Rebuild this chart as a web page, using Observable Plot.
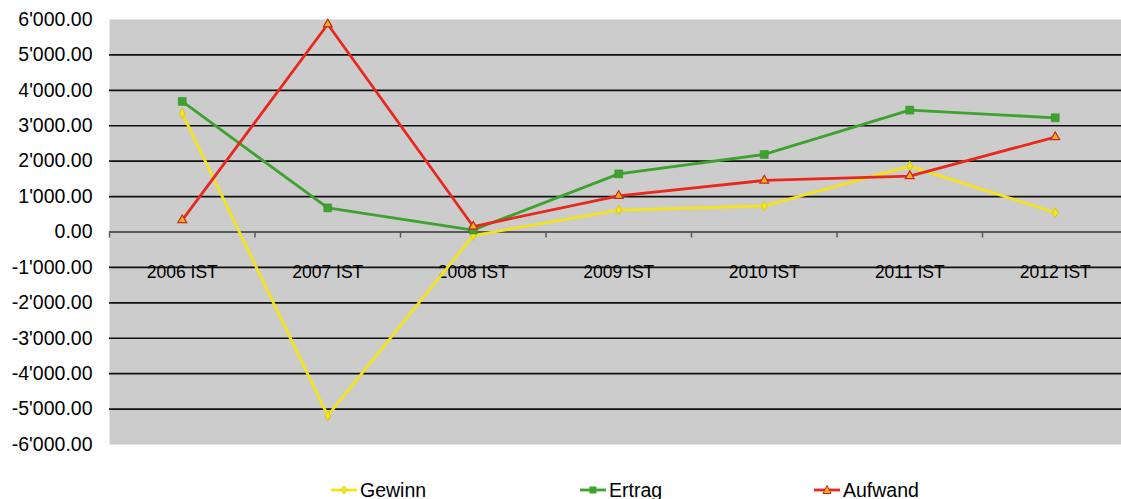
<!DOCTYPE html>
<html><head><meta charset="utf-8">
<script src="https://cdn.jsdelivr.net/npm/d3@7"></script>
<script src="https://cdn.jsdelivr.net/npm/@observablehq/plot@0.6"></script>
<style>
body{margin:0;background:#fff;font-family:"Liberation Sans",Arial,sans-serif;}
#chart svg{display:block;}
#legend{position:relative;height:39px;width:1121px;}
.item{position:absolute;top:19px;height:22px;display:flex;align-items:center;font-size:19.5px;color:#000;}
.item svg{margin-right:3px;}
</style></head><body>
<div id="chart"></div>
<div id="legend"></div>
<script>
const categories = ["2006 IST","2007 IST","2008 IST","2009 IST","2010 IST","2011 IST","2012 IST"];
const seriesNames = ["Gewinn","Ertrag","Aufwand"];
const gewinn  = [3350, -5185, -100, 620, 735, 1860, 545];
const ertrag  = [3685, 680, 55, 1640, 2190, 3440, 3225];
const aufwand = [335, 5865, 155, 1020, 1455, 1580, 2680];
const yTicks = [-6000,-5000,-4000,-3000,-2000,-1000,0,1000,2000,3000,4000,5000,6000];
const gridTicks = [-5000,-4000,-3000,-2000,-1000,1000,2000,3000,4000,5000];
const colors = ["#f2e31e","#3da32e","#e8281c"];
const legendLeft = [331, 580, 814];

const values = [gewinn, ertrag, aufwand];
const rows = [];
seriesNames.forEach((s, k) => values[k].forEach((v, i) => rows.push({i, cat: categories[i], series: s, value: v})));
const boundaries = d3.range(categories.length + 1).map(i => i - 0.5);
const fmt = d => d3.format(",.2f")(d).replace(/,/g, "'").replace("−", "-");

const bySeries = s => rows.filter(r => r.series === s);

const chart = Plot.plot({
  width: 1121,
  height: 460,
  marginLeft: 109,
  marginRight: 0,
  marginTop: 19,
  marginBottom: 16,
  style: {fontFamily: "'Liberation Sans', Arial, sans-serif", background: "#fff", color: "#000"},
  x: {type: "linear", domain: [-0.5, categories.length - 0.5], range: [109, 1127.5], axis: null},
  y: {domain: [-6000, 6000], axis: null},
  color: {domain: seriesNames, range: colors},
  marks: [
    Plot.frame({fill: "#cccccc", stroke: null}),
    Plot.ruleY(gridTicks, {stroke: "#111", strokeWidth: 1.6}),
    Plot.ruleY([0], {stroke: "#5a5a5a", strokeWidth: 2}),
    Plot.ruleX(boundaries, {y1: 0, y2: -170, stroke: "#5a5a5a", strokeWidth: 1.5}),
    Plot.axisY(yTicks, {anchor: "left", tickSize: 0, tickPadding: 17, tickFormat: fmt, fontSize: 19.5, label: null, fill: "#000"}),
    Plot.text(categories, {x: (d, i) => i, y: 0, dy: 40, text: d => d, fontSize: 17.5, fill: "#000"}),
    Plot.line(rows, {x: "i", y: "value", z: "series", stroke: "series", strokeWidth: 2.8}),
    Plot.dot(bySeries("Gewinn"), {x: "i", y: "value", symbol: "diamond", r: 3, fill: "#f5e62a", stroke: "#d8c80e", strokeWidth: 1}),
    Plot.dot(bySeries("Ertrag"), {x: "i", y: "value", symbol: "square", r: 4.5, fill: "#3da32e", stroke: "#2f8f22", strokeWidth: 0.5}),
    Plot.dot(bySeries("Aufwand"), {x: "i", y: "value", symbol: "triangle", r: 3.3, fill: "#f4b01a", stroke: "#c8281c", strokeWidth: 1.2})
  ]
});
document.getElementById("chart").appendChild(chart);

const legend = document.getElementById("legend");
const markerSvg = k => {
  const c = colors[k];
  let m;
  if (k === 0) m = `<path d="M13,7 L16,11 L13,15 L10,11 Z" fill="#f5e62a" stroke="#d8c80e" stroke-width="0.8"/>`;
  else if (k === 1) m = `<rect x="9.5" y="7.5" width="7" height="7" fill="#3da32e"/>`;
  else m = `<path d="M13,6.5 L17,14.5 L9,14.5 Z" fill="#f4b01a" stroke="#c8281c" stroke-width="1"/>`;
  return `<svg width="26" height="22"><line x1="0" y1="11" x2="26" y2="11" stroke="${c}" stroke-width="2.8"/>${m}</svg>`;
};
seriesNames.forEach((s, k) => {
  const el = document.createElement("div");
  el.className = "item";
  el.style.left = legendLeft[k] + "px";
  el.innerHTML = markerSvg(k) + `<span>${s}</span>`;
  legend.appendChild(el);
});
</script>
</body></html>
